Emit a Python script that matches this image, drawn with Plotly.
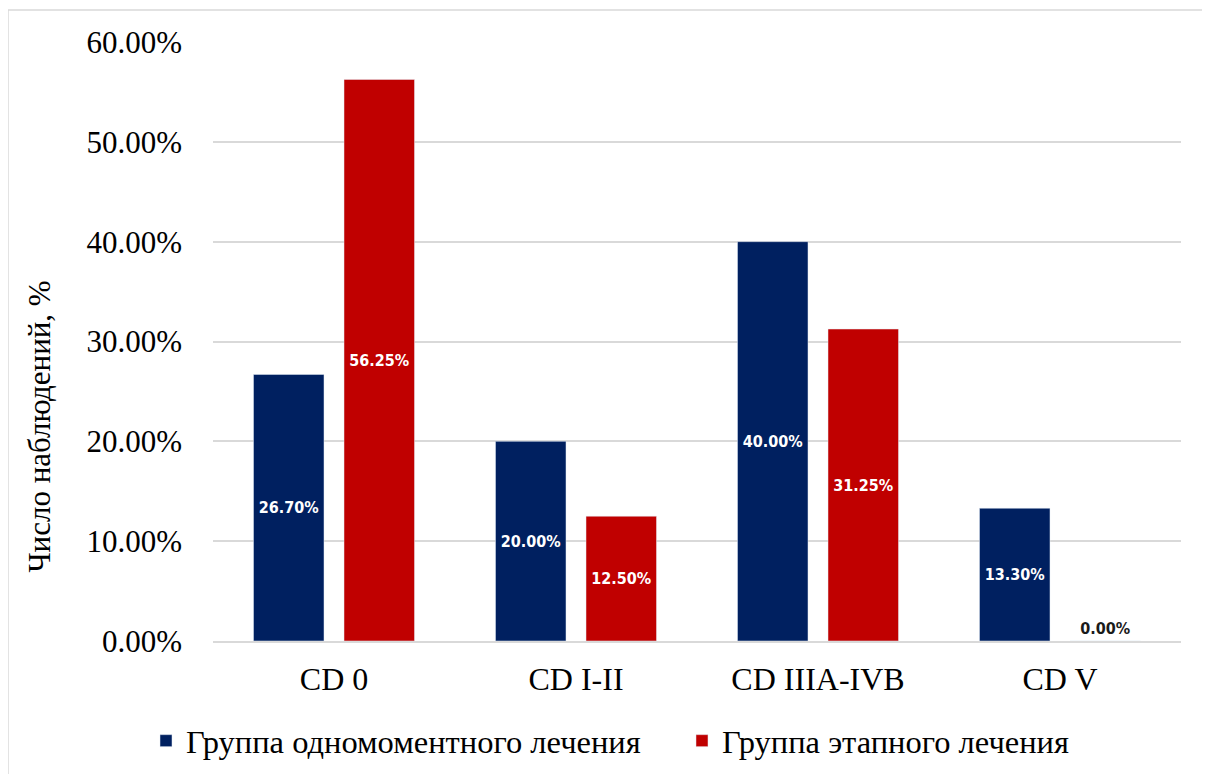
import plotly.graph_objects as go

categories = ["CD 0", "CD I-II", "CD IIIA-IVB", "CD V"]
one_stage = [26.70, 20.00, 40.00, 13.30]
staged = [56.25, 12.50, 31.25, 0.00]
series_names = ["Группа одномоментного лечения", "Группа этапного лечения"]
y_ticks = [0, 10, 20, 30, 40, 50, 60]
y_tick_labels = [f"{v:.2f}%" for v in y_ticks]
y_title = "Число наблюдений, %"

BLUE = "#002060"
RED = "#C00000"
LBL_FONT = "DejaVu Sans Condensed, DejaVu Sans, sans-serif"
SERIF = "Liberation Serif, Times New Roman, serif"


def positions(vals):
    return ["inside" if v > 0 else "outside" for v in vals]


def colors(vals):
    return ["white" if v > 0 else "#1a1a1a" for v in vals]


fig = go.Figure()
for name, vals, col, lg in [(series_names[0], one_stage, BLUE, "legend"),
                            (series_names[1], staged, RED, "legend2")]:
    fig.add_trace(go.Bar(
        x=categories, y=vals, name=name, marker_color=col, legend=lg,
        text=[f"{v:.2f}%" for v in vals],
        textposition=positions(vals),
        insidetextanchor="middle",
        textangle=0,
        constraintext="none",
        textfont=dict(family=LBL_FONT, size=16, color=colors(vals), weight="bold"),
        cliponaxis=False,
    ))

legend_common = dict(orientation="h", y=-0.167, yanchor="middle", xanchor="left",
                     font=dict(size=32.5, family=SERIF), itemwidth=30,
                     bgcolor="rgba(0,0,0,0)")
fig.update_layout(
    width=1210, height=774,
    paper_bgcolor="white", plot_bgcolor="white",
    margin=dict(l=205, r=37, t=34, b=141),
    barmode="group", bargap=0.252, bargroupgap=0.221,
    font=dict(family=SERIF, size=31, color="#000000"),
    legend=dict(x=-0.0692, **legend_common),
    legend2=dict(x=0.4845, **legend_common),
    showlegend=True,
)
fig.update_xaxes(showgrid=False, showline=True, linecolor="#d9d9d9", linewidth=1.5,
                 ticks="", ticklabelstandoff=9, tickfont=dict(size=32))
fig.update_yaxes(range=[0, 60], tickvals=y_ticks, ticktext=y_tick_labels,
                 showgrid=True, gridcolor="#d9d9d9", gridwidth=1.5,
                 zeroline=False, showline=False, ticks="", ticklabelstandoff=30,
                 tickfont=dict(size=31))
fig.add_annotation(text=y_title, xref="paper", yref="paper", x=-0.1787, y=0.358,
                   textangle=-90, showarrow=False, font=dict(size=31, family=SERIF),
                   xanchor="center", yanchor="middle")
fig.add_shape(type="rect", xref="paper", yref="paper",
              x0=-0.2118, x1=1.04, y0=-0.235, y1=1.0534,
              line=dict(color="#d9d9d9", width=1.5), fillcolor="rgba(0,0,0,0)", layer="below")

fig.write_html("out.html")
